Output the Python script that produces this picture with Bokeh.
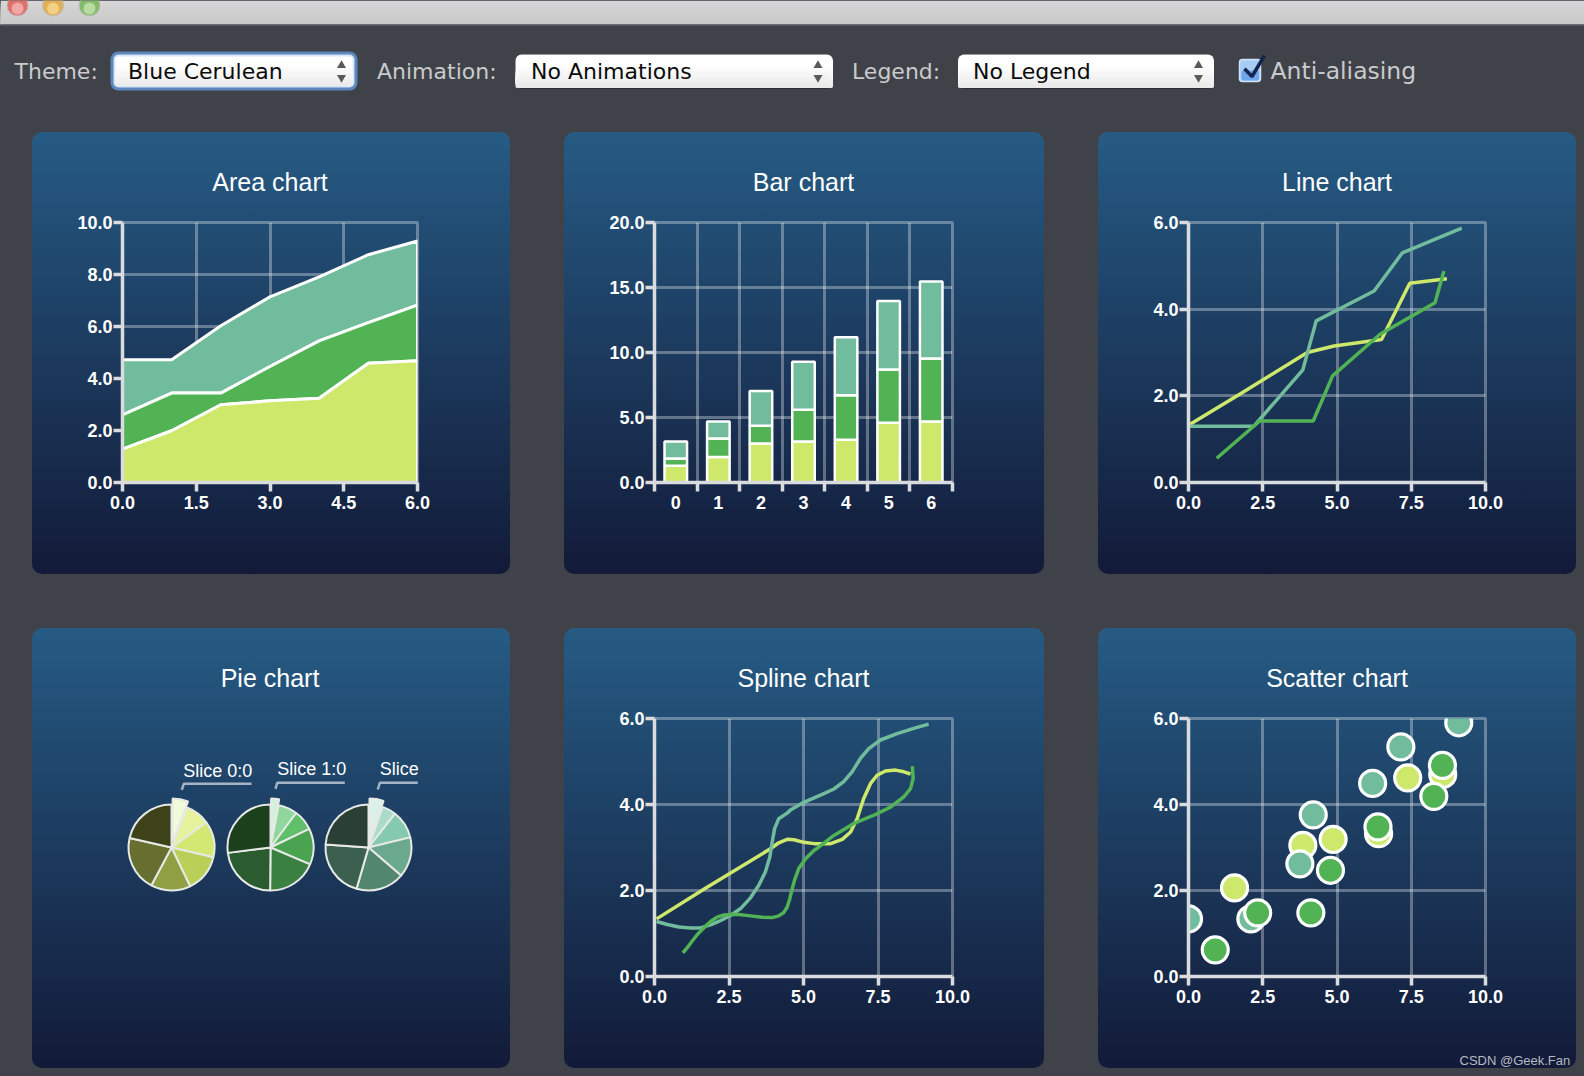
import numpy as np
from bokeh.embed import file_html
from bokeh.layouts import column, row
from bokeh.models import FixedTicker, NumeralTickFormatter, Range1d
from bokeh.plotting import figure
from bokeh.resources import INLINE

# ---------- data ----------
YELLOW_C, GREEN_C, TEAL_C = "#cde86a", "#52b354", "#72bc9e"

area_x = [0, 1, 2, 3, 4, 5, 6]
area_yellow = [1.28, 1.99, 2.99, 3.14, 3.24, 4.59, 4.68]
area_green_top = [2.60, 3.44, 3.44, 4.46, 5.45, 6.15, 6.82]
area_teal_top = [4.72, 4.72, 6.03, 7.14, 7.91, 8.76, 9.29]

bar_cats = [0, 1, 2, 3, 4, 5, 6]
bar_yellow_top = [1.28, 1.97, 3.00, 3.15, 3.28, 4.59, 4.69]
bar_green_top = [1.85, 3.38, 4.36, 5.59, 6.72, 8.69, 9.54]
bar_teal_top = [3.15, 4.69, 7.03, 9.28, 11.18, 13.97, 15.46]

line_yellow_x = [0.0, 1.75, 4.0, 4.9, 6.5, 7.45, 8.7]
line_yellow_y = [1.32, 2.05, 3.0, 3.15, 3.3, 4.6, 4.7]
line_teal_x = [0.0, 2.2, 3.85, 4.3, 6.25, 7.2, 9.2]
line_teal_y = [1.3, 1.3, 2.6, 3.73, 4.42, 5.3, 5.87]
line_green_x = [0.95, 2.4, 4.2, 4.85, 6.45, 8.3, 8.6]
line_green_y = [0.56, 1.42, 1.42, 2.46, 3.42, 4.15, 4.88]

spline_yellow_x = [.07, 1.75, 3.89, 4.17, 4.45, 4.68, 5.01, 5.35, 5.91, 6.30, 6.58, 6.80, 7.02, 7.25, 7.47, 7.75, 8.09, 8.37, 8.59]
spline_yellow_y = [1.34, 2.07, 2.97, 3.11, 3.19, 3.18, 3.12, 3.09, 3.09, 3.19, 3.36, 3.67, 4.14, 4.49, 4.68, 4.78, 4.80, 4.76, 4.71]
spline_teal_x = [.07, .43, .82, 1.21, 1.54, 1.88, 2.21, 2.55, 2.89, 3.22, 3.50, 3.72, 3.87, 3.95, 4.03, 4.17, 4.45, 4.56, 5.01, 5.57, 6.02, 6.35, 6.63, 6.91, 7.19, 7.58, 8.14, 8.70, 9.20]
spline_teal_y = [1.28, 1.21, 1.15, 1.13, 1.13, 1.20, 1.30, 1.42, 1.58, 1.83, 2.12, 2.43, 2.78, 3.13, 3.44, 3.67, 3.80, 3.87, 4.05, 4.22, 4.36, 4.53, 4.76, 5.07, 5.30, 5.50, 5.65, 5.77, 5.87]
spline_green_x = [.95, 1.10, 1.26, 1.43, 1.60, 1.77, 1.94, 2.10, 2.33, 2.55, 2.83, 3.22, 3.61, 3.95, 4.17, 4.34, 4.45, 4.54, 4.62, 4.70, 4.84, 5.07, 5.35, 5.51, 6.02, 6.69, 7.36, 7.92, 8.37, 8.59, 8.68, 8.65]
spline_green_y = [.55, .67, .82, .97, 1.09, 1.21, 1.31, 1.38, 1.43, 1.44, 1.44, 1.41, 1.38, 1.37, 1.41, 1.49, 1.61, 1.81, 2.04, 2.24, 2.51, 2.74, 2.93, 3.01, 3.28, 3.56, 3.75, 3.94, 4.18, 4.37, 4.60, 4.89]

scatter_yellow_x = [1.55, 3.85, 4.87, 6.4, 7.38, 8.56]
scatter_yellow_y = [2.06, 3.05, 3.19, 3.32, 4.62, 4.7]
scatter_teal_x = [0.0, 2.1, 3.75, 4.2, 6.2, 7.15, 9.1]
scatter_teal_y = [1.34, 1.34, 2.62, 3.76, 4.49, 5.34, 5.9]
scatter_green_x = [0.9, 2.33, 4.12, 4.78, 6.38, 8.26, 8.55]
scatter_green_y = [0.62, 1.48, 1.48, 2.47, 3.48, 4.19, 4.91]

pie_yellow = [1.3, 2.05, 3.0, 3.15, 3.3, 4.6, 4.75]
pie_green = [0.55, 1.3, 1.4, 2.45, 3.4, 4.15, 4.9]
pie_teal = [1.3, 1.3, 2.6, 3.7, 4.45, 5.3, 5.85]
pie_yellow_colors = ["#f2fbd8", "#e6f29c", "#d3e872", "#b9cf57", "#8f9f42", "#666f30", "#3e4219"]
pie_green_colors = ["#d5f0da", "#8fd79c", "#5fbf6b", "#4aa350", "#3a8040", "#2b5c2f", "#1c3f1c"]
pie_teal_colors = ["#daf0e8", "#aadcc8", "#85c9ae", "#6ba98f", "#52866e", "#3c6050", "#2a4034"]
pie_labels = ["Slice 0:0", "Slice 1:0", "Slice"]

titles = ["Area chart", "Bar chart", "Line chart", "Pie chart", "Spline chart", "Scatter chart"]
area_x_ticks = [0, 1.5, 3, 4.5, 6]
area_y_ticks = [0, 2, 4, 6, 8, 10]
bar_y_ticks = [0, 5, 10, 15, 20]
xy_x_ticks = [0, 2.5, 5, 7.5, 10]
xy_y_ticks = [0, 2, 4, 6]

# ---------- style ----------
BG = "#404249"
FONT = "Liberation Sans"
AXIS = "#d9dbde"
GRID_ALPHA = 0.32
GRID_W = 3
PANEL_CSS = {"background": "linear-gradient(180deg,#265b84 0%,#121a38 100%)", "border-radius": "10px"}


def panel(title, w, h, left_margin, L, R, T, B, xr, yr):
    p = figure(width=w, height=h, x_range=Range1d(*xr), y_range=Range1d(*yr), toolbar_location=None, tools="",
               output_backend="svg", margin=(0, 0, 0, left_margin), styles=PANEL_CSS,
               min_border_left=L, min_border_right=R, min_border_top=T, min_border_bottom=B)
    p.background_fill_alpha = 0
    p.border_fill_alpha = 0
    p.outline_line_color = None
    p.title.text = title
    p.title.align = "center"
    p.title.text_color = "#ffffff"
    p.title.text_font = FONT
    p.title.text_font_style = "normal"
    p.title.text_font_size = "25px"
    p.title.standoff = 54
    return p


def style_axes(p):
    p.outline_line_color = "#ffffff"
    p.outline_line_alpha = GRID_ALPHA
    p.outline_line_width = GRID_W
    for ax in list(p.xaxis) + list(p.yaxis):
        ax.axis_line_color = AXIS
        ax.axis_line_width = 3.5
        ax.major_tick_line_color = AXIS
        ax.major_tick_line_width = 3.5
        ax.major_tick_out = 9
        ax.major_tick_in = 0
        ax.minor_tick_line_color = None
        ax.major_label_text_color = "#ffffff"
        ax.major_label_text_font = FONT
        ax.major_label_text_font_size = "18px"
        ax.major_label_text_font_style = "bold"
    for ax in p.xaxis:
        ax.major_label_standoff = 4
    for ax in p.yaxis:
        ax.major_label_standoff = 1
    for g in list(p.xgrid) + list(p.ygrid):
        g.grid_line_color = "#ffffff"
        g.grid_line_alpha = GRID_ALPHA
        g.grid_line_width = GRID_W


def xy_axes(p, xt, yt):
    p.xaxis.ticker = FixedTicker(ticks=xt)
    p.yaxis.ticker = FixedTicker(ticks=yt)
    p.xaxis.formatter = NumeralTickFormatter(format="0.0")
    p.yaxis.formatter = NumeralTickFormatter(format="0.0")
    style_axes(p)


# ---------- header ----------
h = figure(width=1584, height=132, x_range=Range1d(0, 1584), y_range=Range1d(132, 0), toolbar_location=None,
           tools="", output_backend="svg", margin=(0, 0, 0, 0),
           min_border_left=0, min_border_right=0, min_border_top=0, min_border_bottom=0)
h.axis.visible = False
h.grid.visible = False
h.outline_line_color = None
h.background_fill_color = BG
h.border_fill_color = BG

bar_rows = np.arange(0, 24, 3)
bar_shade = (214 - bar_rows * 0.6).astype(int)
h.quad(left=0, right=1584, top=bar_rows, bottom=24,
       fill_color=[f"#{v:02x}{v:02x}{v:02x}" for v in bar_shade], line_color=None)
h.quad(left=0, right=1584, top=23.5, bottom=25, fill_color="#6b6d70", line_color=None)
for cx, edge, mid in [(17, "#e0706c", "#f0a8a4"), (52.5, "#dfb056", "#f2d184"), (89, "#84bb6a", "#b8dca0")]:
    h.circle(x=cx, y=5, radius=10.5, fill_color=edge, line_color="#bdbdbd", line_width=1)
    h.circle(x=cx, y=8, radius=6, fill_color=mid, line_color=None)

# theme combo glow
h.quad(left=110, right=357, top=51, bottom=90, fill_color="#5d87bb", line_color=None, border_radius=8)
h.quad(left=113, right=354, top=54, bottom=87, fill_color="#d5e4f6", line_color=None, border_radius=5)
h.quad(left=115, right=352, top=56, bottom=85, fill_color="#ffffff", line_color=None, border_radius=3)
grad_steps = np.arange(66, 85, 3)
h.quad(left=115, right=352, top=grad_steps, bottom=85,
       fill_color=[f"#{v:02x}{v:02x}{v:02x}" for v in (252 - (grad_steps - 66)).astype(int)],
       line_color=None, border_radius=3)
# plain combos
for l, r in [(515, 832.5), (957.5, 1213.5)]:
    h.quad(left=l, right=r, top=54, bottom=88.5, fill_color="#2c2d30", line_color=None, border_radius=6)
    h.quad(left=l, right=r, top=54, bottom=87.5, fill_color="#ffffff", line_color=None, border_radius=6)
    steps = np.arange(66, 87, 3)
    h.quad(left=l, right=r, top=steps, bottom=87.5,
           fill_color=[f"#{v:02x}{v:02x}{v:02x}" for v in (252 - (steps - 66)).astype(int)],
           line_color=None, border_radius=6)
for cx in [341, 817.5, 1198]:
    h.scatter(x=[cx], y=[65], marker="triangle", size=9, fill_color="#5a5a5a", line_color=None)
    h.scatter(x=[cx], y=[77], marker="inverted_triangle", size=9, fill_color="#5a5a5a", line_color=None)
h.text(x=[14, 376.5, 851.5], y=[70.5] * 3, text=["Theme:", "Animation:", "Legend:"],
       text_color="#c9cbcc", text_font={"value": "DejaVu Sans"}, text_font_size="22px", text_baseline="middle")
h.text(x=[1270], y=[70.5], text=["Anti-aliasing"],
       text_color="#c9cbcc", text_font={"value": "DejaVu Sans"}, text_font_size="23.5px", text_baseline="middle")
h.text(x=[127.5, 530.6, 972.5], y=[70.5] * 3, text=["Blue Cerulean", "No Animations", "No Legend"],
       text_color="#0b0b0b", text_font={"value": "DejaVu Sans"}, text_font_size="22px", text_baseline="middle")
# checkbox
h.quad(left=1239, right=1260, top=59, bottom=81, fill_color="#a8cdf4", line_color="#cfe2f7", line_width=1.5,
       border_radius=3)
h.quad(left=1241, right=1258.5, top=70, bottom=80, fill_color="#6fa8ea", line_color=None, border_radius=2)
h.line(x=[1244, 1251.5, 1264], y=[68.3, 76, 55], line_color="#14264f", line_width=3.5)

# ---------- area ----------
p1 = panel(titles[0], 478, 442, 32, 90, 93, 90, 92, (0, 6), (0, 10))
xy_axes(p1, area_x_ticks, area_y_ticks)
xs = np.array(area_x, dtype=float)
zero = np.zeros(len(xs))
for top, bottom, color in [(area_teal_top, area_green_top, TEAL_C), (area_green_top, area_yellow, GREEN_C),
                           (area_yellow, zero, YELLOW_C)]:
    p1.patch(np.r_[xs, xs[::-1]], np.r_[top, np.asarray(bottom)[::-1]], fill_color=color, line_color="#ffffff",
             line_width=3)

# ---------- bar ----------
p2 = panel(titles[1], 480, 442, 54, 90, 92, 90, 92, (-0.5, 6.5), (0, 20))
style_axes(p2)
cats = np.array(bar_cats, dtype=float)
p2.xaxis.ticker = FixedTicker(ticks=bar_cats, minor_ticks=list(cats - 0.5) + [cats[-1] + 0.5])
p2.xaxis.major_label_overrides = {c: str(c) for c in bar_cats}
p2.xaxis.major_tick_line_color = None
p2.xaxis.minor_tick_line_color = AXIS
p2.xaxis.minor_tick_line_width = 3.5
p2.xaxis.minor_tick_out = 9
p2.xaxis.minor_tick_in = 0
p2.xgrid.grid_line_color = None
p2.xgrid.minor_grid_line_color = "#ffffff"
p2.xgrid.minor_grid_line_alpha = GRID_ALPHA
p2.xgrid.minor_grid_line_width = GRID_W
p2.yaxis.ticker = FixedTicker(ticks=bar_y_ticks)
p2.yaxis.formatter = NumeralTickFormatter(format="0.0")
for bottom, top, color in [(zero, bar_yellow_top, YELLOW_C), (bar_yellow_top, bar_green_top, GREEN_C),
                           (bar_green_top, bar_teal_top, TEAL_C)]:
    p2.vbar(x=bar_cats, width=0.53, bottom=bottom, top=top, fill_color=color, line_color="#ffffff", line_width=2.5)

# ---------- line ----------
p3 = panel(titles[2], 478, 442, 54, 90, 91, 90, 92, (0, 10), (0, 6))
xy_axes(p3, xy_x_ticks, xy_y_ticks)
for x, y, c in [(line_yellow_x, line_yellow_y, YELLOW_C), (line_teal_x, line_teal_y, TEAL_C),
                (line_green_x, line_green_y, GREEN_C)]:
    p3.line(x, y, line_color=c, line_width=3.5)

# ---------- pie ----------
p4 = panel(titles[3], 478, 440, 32, 0, 3, 90, 92, (32, 507), (-976, -718))
p4.xaxis.visible = False
p4.yaxis.visible = False
p4.grid.visible = False
pie_cx = [171, 270, 368]
pie_cy = -847
pie_r = 43
explode = 6
for values, colors, cx in zip([pie_yellow, pie_green, pie_teal],
                              [pie_yellow_colors, pie_green_colors, pie_teal_colors], pie_cx):
    v = np.array(values)
    cum = np.r_[0, np.cumsum(v)] / v.sum() * 2 * np.pi
    start = np.pi / 2 - cum[:-1]
    end = np.pi / 2 - cum[1:]
    mid = (start + end) / 2
    px = np.full(len(v), float(cx))
    py = np.full(len(v), float(pie_cy))
    px[0] += explode * np.cos(mid[0])
    py[0] += explode * np.sin(mid[0])
    p4.wedge(px, py, radius=pie_r, start_angle=start, end_angle=end, direction="clock", fill_color=colors,
             line_color="#e6e9e6", line_width=2)
for lx, ly in [([181.3, 183.3, 251], [-789.3, -783.3, -783.3]),
               ([275, 276.7, 344.3], [-788.3, -782.3, -782.3]),
               ([377.3, 379.3, 417.3], [-789, -782.3, -782.3])]:
    p4.line(lx, ly, line_color="#ffffff", line_alpha=0.6, line_width=2.5)
p4.text(x=[182.7, 276.7, 379.3], y=[-770, -768.3, -768.5], text=pie_labels, text_color="#ffffff",
        text_font={"value": FONT}, text_font_size="18px", text_baseline="middle")

# ---------- spline ----------
p5 = panel(titles[4], 480, 440, 54, 90, 92, 90, 92, (0, 10), (0, 6))
xy_axes(p5, xy_x_ticks, xy_y_ticks)
for x, y, c in [(spline_yellow_x, spline_yellow_y, YELLOW_C), (spline_teal_x, spline_teal_y, TEAL_C),
                (spline_green_x, spline_green_y, GREEN_C)]:
    p5.line(x, y, line_color=c, line_width=3.5, line_join="round")

# ---------- scatter ----------
p6 = panel(titles[5], 478, 440, 54, 90, 91, 90, 92, (0, 10), (0, 6))
xy_axes(p6, xy_x_ticks, xy_y_ticks)
for x, y, c in [(scatter_yellow_x, scatter_yellow_y, YELLOW_C), (scatter_teal_x, scatter_teal_y, TEAL_C),
                (scatter_green_x, scatter_green_y, GREEN_C)]:
    p6.scatter(x, y, size=26, fill_color=c, line_color="#ffffff", line_width=3.2)

# ---------- watermark ----------
wm = figure(width=130, height=24, x_range=Range1d(0, 130), y_range=Range1d(0, 24), toolbar_location=None, tools="",
            output_backend="svg", margin=(0, 0, 0, 0), min_border_left=0, min_border_right=0, min_border_top=0,
            min_border_bottom=0, styles={"position": "absolute", "left": "1452px", "top": "1048px"})
wm.axis.visible = False
wm.grid.visible = False
wm.outline_line_color = None
wm.background_fill_alpha = 0
wm.border_fill_alpha = 0
wm.text(x=[7], y=[12], text=["CSDN @Geek.Fan"], text_color="#b6bac1", text_font={"value": FONT},
        text_font_size="13px", text_baseline="middle")

# ---------- page ----------
row1 = row(p1, p2, p3, margin=(0, 0, 0, 0), spacing=0)
row2 = row(p4, p5, p6, margin=(54, 0, 0, 0), spacing=0)
root = column(h, row1, row2, wm, width=1584, height=1076, spacing=0, margin=(0, 0, 0, 0),
              styles={"position": "fixed", "left": "0px", "top": "0px", "background": BG})

open("out.html", "w").write(file_html(root, INLINE))
